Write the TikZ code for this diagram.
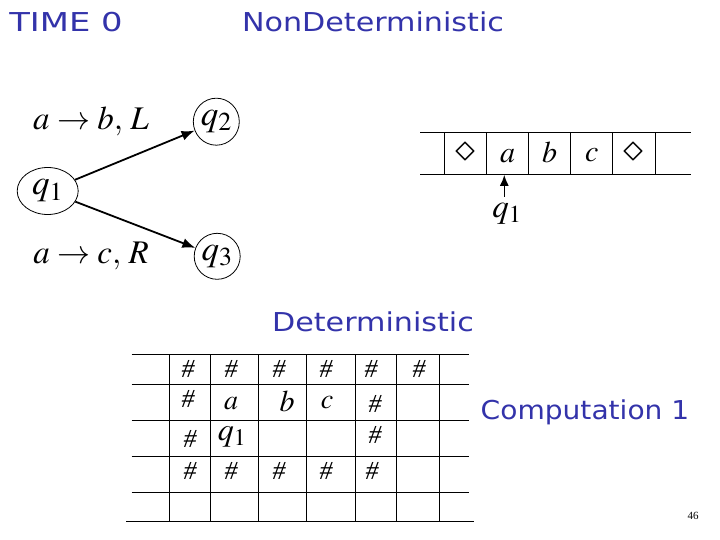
\documentclass[tikz,border=0pt]{standalone}
\usepackage{mathptmx}
\usepackage[no-math]{fontspec}
\setmainfont{Liberation Serif}
\newfontfamily\comic{DejaVu Sans}
\usetikzlibrary{shapes.geometric,arrows.meta}
\definecolor{titleblue}{RGB}{51,51,170}
\begin{document}
\begin{tikzpicture}[x=1pt,y=-1pt,
  title/.style={text=titleblue,font=\comic\fontsize{26}{30}\selectfont,inner sep=0pt},
  state/.style={ellipse,draw,line width=0.8pt,inner sep=0pt},
  big/.style={font=\fontsize{35}{40}\selectfont,inner sep=0pt},
  cell/.style={font=\fontsize{30}{34}\selectfont,inner sep=0pt},
  hash/.style={font=\fontsize{26}{30}\selectfont\itshape,inner sep=0pt},
  arr/.style={-{Latex[length=13pt,width=10pt]},line width=1.8pt},
  rule/.style={line width=0.9pt}]
\useasboundingbox (0,0) rectangle (720,540);
% titles
\node[title] (t0) at (66,22) {\scalebox{1.3}[1]{TIME 0}};
\node[title] (tnd) at (373,22) {\scalebox{1.16}[1]{NonDeterministic}};
\node[title] (tdet) at (373,322) {\scalebox{1.16}[1]{Deterministic}};
\node[title] (tcomp) at (585,412) {\scalebox{1.08}[1]{Computation 1}};
\node[font=\fontsize{11}{13}\selectfont,inner sep=0pt] (pg) at (693,516) {46};
% state diagram
\node[state,minimum width=61pt,minimum height=47pt] (q1) at (47.7,191) {};
\node[big] at (q1) {$q_1$};
\node[state,minimum width=46pt,minimum height=47pt] (q2) at (216.3,121.7) {};
\node[big] at (q2) {$q_2$};
\node[state,minimum width=46pt,minimum height=46pt] (q3) at (217.2,256.3) {};
\node[big] at (q3) {$q_3$};
\draw[arr] (q1) -- (q2);
\draw[arr] (q1) -- (q3);
\node[big,font=\fontsize{33}{38}\selectfont] (l1) at (91,121) {$a\rightarrow b,\,L$};
\node[big,font=\fontsize{33}{38}\selectfont] (l2) at (91,256) {$a\rightarrow c,\,R$};
% tape
\draw[rule] (420,132.7) -- (690.7,132.7);
\draw[rule] (420,174.3) -- (690.7,174.3);
\foreach \x in {444.7,486.7,528.7,570.7,612.7,655}
  \draw[rule] (\x,132.7) -- (\x,174.3);
\node[cell,font=\fontsize{40}{44}\selectfont] (d1) at (465.7,153) {$\diamond$};
\node[cell] (ta) at (507.7,156) {$a$};
\node[cell] (tb) at (549.7,152) {$b$};
\node[cell] (tc) at (591.7,155) {$c$};
\node[cell,font=\fontsize{40}{44}\selectfont] (d2) at (633.8,153) {$\diamond$};
\coordinate (head) at (504.3,174.8);
\node[big,font=\fontsize{33}{38}\selectfont] (tq) at (507,214) {$q_1$};
\draw[arr,line width=1.5pt,-{Latex[length=11pt,width=9pt]}] (504.3,197) -- (head);
% grid
\foreach \y in {354,384.3,420,456,492}
  \draw[rule] (131.7,\y) -- (469,\y);
\draw[rule] (126,521.7) -- (474,521.7);
\foreach \x in {169,210.3,258.7,306.7,355,396.7,439}
  \draw[rule] (\x,354) -- (\x,521.7);
\foreach \x in {188,231,279,326,371,419}
  \node[hash] at (\x,369) {\#};
\node[hash] at (188,399) {\#};
\node[cell,font=\fontsize{28}{32}\selectfont] at (231,404) {$a$};
\node[cell] at (287,401) {$b$};
\node[cell,font=\fontsize{28}{32}\selectfont] at (327,403) {$c$};
\node[hash] at (375,404) {\#};
\node[hash] at (190,439) {\#};
\node[cell,font=\fontsize{32}{36}\selectfont] at (232,437) {$q_1$};
\node[hash] at (375,435) {\#};
\foreach \x in {190,231,279,326,372}
  \node[hash] at (\x,471) {\#};
\end{tikzpicture}
\end{document}
